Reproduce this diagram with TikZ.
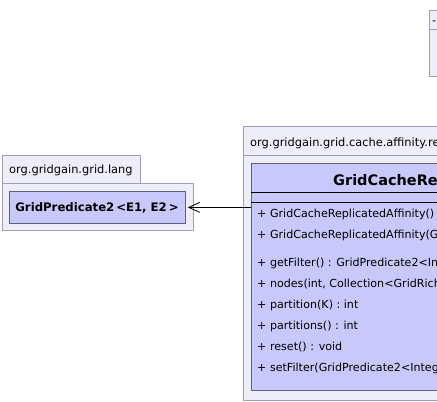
\documentclass[tikz,border=0pt]{standalone}
\usepackage{fontspec}
\setmainfont{DejaVu Sans}
\usetikzlibrary{arrows.meta}
\definecolor{pkgfill}{RGB}{238,238,251}
\definecolor{pkgline}{RGB}{160,158,178}
\definecolor{clsfill}{RGB}{200,200,250}
\definecolor{clsline}{RGB}{95,95,125}
\tikzset{
  pkgbox/.style={draw=pkgline, fill=pkgfill, line width=1pt, rectangle, inner sep=0pt, anchor=north west},
  clsbox/.style={draw=clsline, fill=clsfill, line width=0.8pt, rectangle, inner sep=0pt, anchor=north west},
  txt/.style={inner sep=0pt, anchor=base west, font=\fontsize{11.4}{13}\selectfont},
  mtxt/.style={inner sep=0pt, anchor=base west, font=\fontsize{11.1}{13}\selectfont},
  bold/.style={inner sep=0pt, font=\fontsize{11.7}{13}\selectfont\bfseries},
  title/.style={inner sep=0pt, anchor=base west, font=\fontsize{14.5}{17}\selectfont\bfseries},
  rule/.style={draw=black, line width=0.8pt},
  dep/.style={draw=black, line width=0.8pt, -{Straight Barb[length=11pt,width=10pt,line width=0.8pt]}}
}
\begin{document}
\begin{tikzpicture}[x=1pt,y=-1pt]
\useasboundingbox (0,0) rectangle (437,402);
\clip (0,0) rectangle (437,402);
% top-right partial package
\node[pkgbox, minimum width=30pt, minimum height=19pt] (tpkgtab) at (429,10) {};
\node[pkgbox, minimum width=30pt, minimum height=47pt] (tpkg) at (429,29) {};
\node[txt] (tpkgname) at (432,24) {-};
% left package
\node[pkgbox, minimum width=138pt, minimum height=28pt] (lpkgtab) at (2,155) {};
\node[pkgbox, minimum width=191pt, minimum height=47pt] (lpkg) at (2,183) {};
\node[txt] (lpkgname) at (9,173) {org.gridgain.grid.lang};
\node[clsbox, minimum width=176pt, minimum height=32pt] (lcls) at (9,191) {};
\node[bold, anchor=base] (lclsname) at (97,211.5) {GridPredicate2\,<E1, E2\,>};
% right package
\node[pkgbox, minimum width=230pt, minimum height=29pt] (rpkgtab) at (243,126) {};
\node[pkgbox, minimum width=230pt, minimum height=245pt] (rpkg) at (243,155) {};
\node[txt] (rpkgname) at (250,146.5) {org.gridgain.grid.cache.affinity.replicated};
\node[clsbox, minimum width=220pt, minimum height=227pt] (rcls) at (251,163) {};
\node[title] (rclsname) at (333,185.5) {GridCacheReplicatedAffinity};
\draw[rule] (rcls.west |- 0,192) -- (rcls.east |- 0,192);
\draw[rule] (rcls.west |- 0,202) -- (rcls.east |- 0,202);
\node[mtxt] (m1) at (257,217.5) {+ GridCacheReplicatedAffinity()};
\node[mtxt] (m2) at (257,238.5) {+ GridCacheReplicatedAffinity(GridPredicate2<Integer, GridRichNode>)};
\node[mtxt] (m3) at (257,266) {+ getFilter() : GridPredicate2<Integer, GridRichNode>};
\node[mtxt] (m4) at (257,287) {+ nodes(int, Collection<GridRichNode>) : Collection<GridRichNode>};
\node[mtxt] (m5) at (257,308) {+ partition(K) : int};
\node[mtxt] (m6) at (257,329) {+ partitions() : int};
\node[mtxt] (m7) at (257,350) {+ reset() : void};
\node[mtxt] (m8) at (257,371) {+ setFilter(GridPredicate2<Integer, GridRichNode>) : void};
% dependency
\draw[dep] (rcls.west |- lcls.east) -- ([xshift=2pt]lcls.east);
\end{tikzpicture}
\end{document}
